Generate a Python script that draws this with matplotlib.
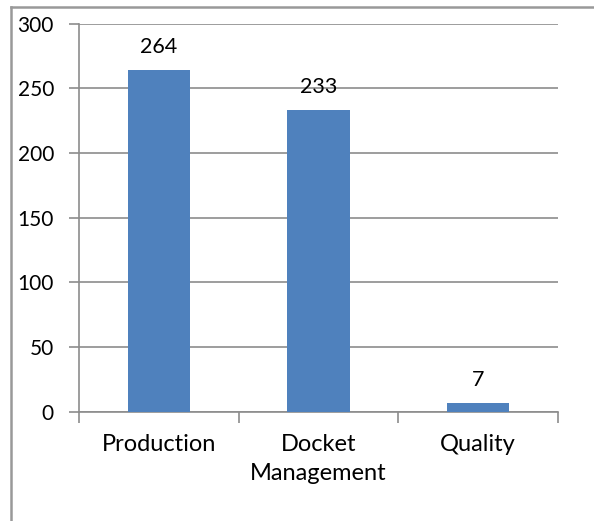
import numpy as np
import matplotlib.pyplot as plt

categories = ['Production', 'Docket\nManagement', 'Quality']
values = [264, 233, 7]
yticks = [0, 50, 100, 150, 200, 250, 300]

plt.rcParams['font.family'] = ['Lato', 'DejaVu Sans']

fig = plt.figure(figsize=(5.94, 5.21), dpi=100)
W, H = 594, 521
# plot area in pixels: left 79, right 558, top 23.6, bottom 411.7
ax = fig.add_axes([79 / W, 1 - 411.7 / H, (558 - 79) / W, (411.7 - 23.6) / H])

x = np.arange(len(categories))
ax.bar(x, values, width=0.39, color='#4F81BD', zorder=3)
for xi, v in zip(x, values):
    ax.text(xi, v + 10, str(v), ha='center', va='bottom', fontsize=15.5, color='black')

ax.set_xlim(-0.5, len(categories) - 0.5)
ax.set_ylim(0, 300)
ax.set_yticks(yticks)
ax.set_yticklabels([str(t) for t in yticks], fontsize=15)
ax.yaxis.grid(True, color='#8c8c8c', linewidth=1.2, zorder=0)

ax.set_xticks(np.arange(-0.5, len(categories), 1), minor=False)
ax.set_xticklabels([])
ax.set_xticks(x, minor=True)
ax.set_xticklabels(categories, minor=True, fontsize=17, linespacing=1.5)
ax.tick_params(axis='x', which='major', length=8, color='#8c8c8c', width=1.2)
ax.tick_params(axis='x', which='minor', length=0, pad=16)
ax.tick_params(axis='y', length=7, color='#8c8c8c', width=1.2, pad=11)

for s in ['top', 'right']:
    ax.spines[s].set_visible(False)
for s in ['left', 'bottom']:
    ax.spines[s].set_color('#8c8c8c')
    ax.spines[s].set_linewidth(1.2)

# outer chart border (only left and top are visible in the crop)
fig.add_artist(plt.Line2D([10.5 / W, 10.5 / W], [0, 1 - 7 / H], transform=fig.transFigure,
                          color='#999999', linewidth=1.8))
fig.add_artist(plt.Line2D([10.5 / W, 1], [1 - 7 / H, 1 - 7 / H], transform=fig.transFigure,
                          color='#999999', linewidth=1.8))

fig.savefig('out.png', dpi=100)
